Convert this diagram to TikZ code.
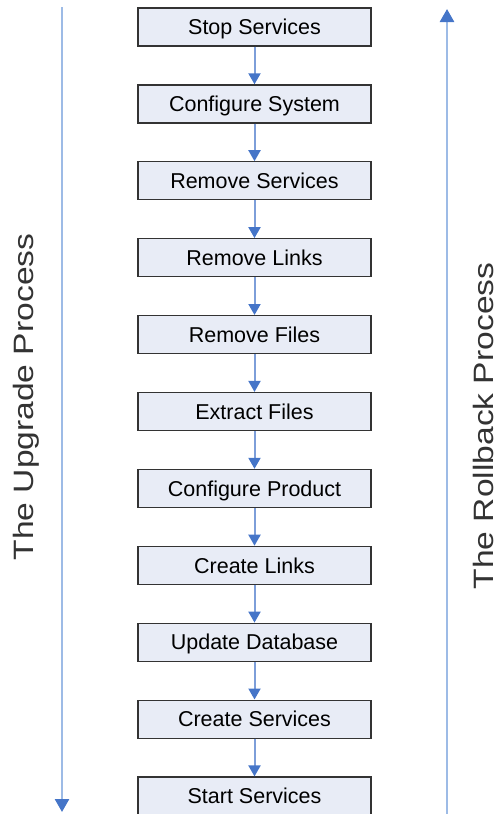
\documentclass[tikz,border=0pt]{standalone}
\usepackage{fontspec}
\setmainfont{Liberation Sans}
\usetikzlibrary{arrows.meta,positioning}
\definecolor{boxfill}{HTML}{E8ECF6}
\definecolor{flowblue}{HTML}{4575C8}
\definecolor{sideblue}{HTML}{9DBBE6}

\begin{document}
\begin{tikzpicture}[
  x=1pt, y=-1pt,
  node distance=37.7pt,
  stepbox/.style={draw=black!80, fill=boxfill, line width=1.2pt, minimum width=233pt, minimum height=38pt, inner sep=0pt, text height=15.4pt, text depth=0pt, font=\fontsize{21.5}{24}\selectfont},
  sidelabel/.style={rotate=90, xscale=1.2, inner sep=0pt, font=\fontsize{28}{32}\selectfont, text=black!80},
  arrow/.style={-{Triangle[width=12pt,length=11pt,color=flowblue]}, line width=2pt, draw=flowblue!70},
  sidearrow/.style={-{Triangle[width=14pt,length=13pt,color=flowblue]}, line width=2.6pt, draw=sideblue}
]
  \useasboundingbox (0,0) rectangle (498,814);

  % Steps
  \node[stepbox] (s1) at (254.5,27) {Stop Services};
  \node[stepbox] (s2) [below=of s1] {Configure System};
  \node[stepbox] (s3) [below=of s2] {Remove Services};
  \node[stepbox] (s4) [below=of s3] {Remove Links};
  \node[stepbox] (s5) [below=of s4] {Remove Files};
  \node[stepbox] (s6) [below=of s5] {Extract Files};
  \node[stepbox] (s7) [below=of s6] {Configure Product};
  \node[stepbox] (s8) [below=of s7] {Create Links};
  \node[stepbox] (s9) [below=of s8] {Update Database};
  \node[stepbox] (s10) [below=of s9] {Create Services};
  \node[stepbox] (s11) [below=of s10] {Start Services};

  % Connectors
  \foreach \i [evaluate=\i as \j using int(\i+1)] in {1,...,10}
    \draw[arrow] (s\i) -- (s\j);

  % Side processes
  \coordinate (upstart) at (62,7);
  \coordinate (upend) at (62,812);
  \coordinate (rbstart) at (447,814);
  \coordinate (rbend) at (447,9);
  \draw[sidearrow] (upstart) -- (upend);
  \draw[sidearrow] (rbstart) -- (rbend);

  \node[sidelabel] (uplabel) at (26,397) {The Upgrade Process};
  \node[sidelabel] (rblabel) at (483,426) {The Rollback Process};

\end{tikzpicture}
\end{document}
